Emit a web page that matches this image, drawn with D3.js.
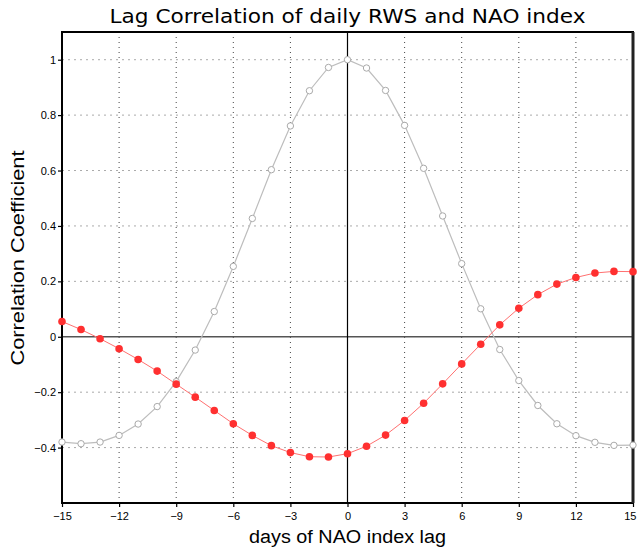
<!DOCTYPE html>
<html>
<head>
<meta charset="utf-8">
<script src="https://cdn.jsdelivr.net/npm/d3@7"></script>
<style>
body { margin: 0; background: #fff; }
svg { display: block; }
</style>
</head>
<body>
<script>
// lag in days
const lags = d3.range(-15, 16)
// auto correlation of NAO index (grey, open circles)
const naoAuto = [-0.38, -0.386, -0.38, -0.356, -0.315, -0.252, -0.162, -0.048, 0.091, 0.254, 0.427, 0.603, 0.761, 0.888, 0.972, 1.0,
  0.97, 0.889, 0.763, 0.608, 0.436, 0.264, 0.101, -0.046, -0.158, -0.248, -0.314, -0.357, -0.381, -0.392, -0.391]
// lag correlation RWS vs NAO (red, filled)
const rwsNao = [0.055, 0.026, -0.007, -0.043, -0.082, -0.124, -0.171, -0.218, -0.266, -0.314, -0.356, -0.393, -0.418, -0.433, -0.434, -0.422,
  -0.395, -0.355, -0.302, -0.24, -0.17, -0.098, -0.027, 0.043, 0.103, 0.152, 0.19, 0.214, 0.23, 0.236, 0.235]
const xTicks = [-15, -12, -9, -6, -3, 0, 3, 6, 9, 12, 15]
const yTicks = [-0.4, -0.2, 0, 0.2, 0.4, 0.6, 0.8, 1]

const width = 637, height = 551
const margin = {top: 32, right: 4, bottom: 48, left: 62}
const w = width - margin.left - margin.right
const h = height - margin.top - margin.bottom

const svg = d3.select("body").append("svg")
  .attr("width", width).attr("height", height)

const chart = svg.append("g")
  .attr("transform", "translate(" + margin.left + "," + margin.top + ")")

const x = d3.scaleLinear().domain([-15, 15]).range([0, w])
const y = d3.scaleLinear().domain([-0.6, 1.1]).range([h, 0])

// grid lines
chart.append("g").selectAll("line")
  .data(xTicks.filter(d => d != 0 && Math.abs(d) != 15))
  .enter().append("line")
  .attr("x1", d => x(d)).attr("x2", d => x(d))
  .attr("y1", 0).attr("y2", h)
  .attr("stroke", "#444").attr("stroke-width", 1)
  .attr("stroke-dasharray", "1,4")

chart.append("g").selectAll("line")
  .data(yTicks.filter(d => d != 0))
  .enter().append("line")
  .attr("x1", 0).attr("x2", w)
  .attr("y1", d => y(d)).attr("y2", d => y(d))
  .attr("stroke", "#aaa").attr("stroke-width", 1)
  .attr("stroke-dasharray", "2,4")

// zero lines
chart.append("line")
  .attr("x1", 0).attr("x2", w)
  .attr("y1", y(0)).attr("y2", y(0))
  .attr("stroke", "#555").attr("stroke-width", 1.5)
chart.append("line")
  .attr("x1", x(0)).attr("x2", x(0))
  .attr("y1", 0).attr("y2", h)
  .attr("stroke", "#000").attr("stroke-width", 1.2)

// axes
const xAxis = chart.append("g")
  .attr("transform", "translate(0," + h + ")")
  .call(d3.axisBottom(x).tickValues(xTicks).tickSize(4).tickSizeOuter(0)
    .tickFormat(d => d < 0 ? "\u2212" + Math.abs(d) : d))
const yAxis = chart.append("g")
  .call(d3.axisLeft(y).tickValues(yTicks).tickSize(4).tickSizeOuter(0)
    .tickFormat(d => d == 0 ? "0" : (d < 0 ? "\u2212" : "") + Math.abs(d)))

svg.selectAll(".domain").remove()
svg.selectAll(".tick line").attr("stroke", "#000").attr("stroke-width", 1.2)
svg.selectAll(".tick text")
  .attr("font-family", "Liberation Sans, Arial, sans-serif")
  .attr("font-size", 11).attr("fill", "#000")
xAxis.selectAll(".tick text").attr("dy", "0.9em")
// last label would run off the page edge
xAxis.selectAll(".tick text").filter(d => d == 15)
  .attr("text-anchor", "end").attr("x", 3)
yAxis.selectAll(".tick text").attr("x", -6)

// frame
chart.append("rect")
  .attr("x", 0).attr("y", 0).attr("width", w).attr("height", h)
  .attr("fill", "none").attr("stroke", "#000").attr("stroke-width", 2)
chart.append("line")
  .attr("x1", w).attr("x2", w).attr("y1", 0).attr("y2", h)
  .attr("stroke", "#222").attr("stroke-width", 3)

// lines
const line = d3.line()
  .x((d, i) => x(lags[i]))
  .y(d => y(d))

chart.append("path")
  .attr("d", line(naoAuto))
  .attr("fill", "none").attr("stroke", "#bdbdbd").attr("stroke-width", 1.2)

chart.append("path")
  .attr("d", line(rwsNao))
  .attr("fill", "none").attr("stroke", "#ff7070").attr("stroke-width", 1)

chart.selectAll(".grey")
  .data(naoAuto)
  .enter().append("circle")
  .attr("class", "grey")
  .attr("cx", (d, i) => x(lags[i]))
  .attr("cy", d => y(d))
  .attr("r", 3.2)
  .attr("fill", "#fff").attr("stroke", "#aaa").attr("stroke-width", 1)

chart.selectAll(".red")
  .data(rwsNao)
  .enter().append("circle")
  .attr("class", "red")
  .attr("cx", (d, i) => x(lags[i]))
  .attr("cy", d => y(d))
  .attr("r", 3.8)
  .attr("fill", "#ff3030")

// titles
svg.append("text")
  .text("Lag Correlation of daily RWS and NAO index")
  .attr("x", x(0) + margin.left).attr("y", 23)
  .attr("text-anchor", "middle")
  .attr("font-family", "DejaVu Sans, sans-serif")
  .attr("font-size", 20).attr("fill", "#000")
  .attr("textLength", 476).attr("lengthAdjust", "spacingAndGlyphs")

svg.append("text")
  .text("days of NAO index lag")
  .attr("x", x(0) + margin.left).attr("y", 543)
  .attr("text-anchor", "middle")
  .attr("font-family", "Liberation Sans, Arial, sans-serif")
  .attr("font-size", 18)
  .attr("textLength", 197).attr("lengthAdjust", "spacingAndGlyphs")

svg.append("text")
  .text("Correlation Coefficient")
  .attr("transform", "translate(24," + 258 + ") rotate(-90)")
  .attr("text-anchor", "middle")
  .attr("font-family", "Liberation Sans, Arial, sans-serif")
  .attr("font-size", 18)
  .attr("textLength", 215).attr("lengthAdjust", "spacingAndGlyphs")
</script>
</body>
</html>
